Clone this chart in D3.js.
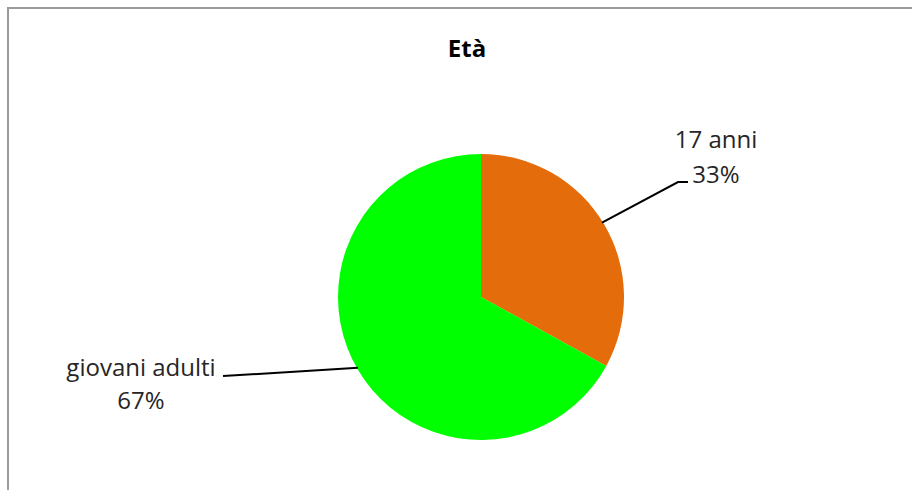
<!DOCTYPE html>
<html><head><meta charset="utf-8">
<script src="https://cdn.jsdelivr.net/npm/d3@7"></script>
<style>html,body{margin:0;padding:0;background:#fff;overflow:hidden}</style>
</head><body>
<svg id="c" width="912" height="490"></svg>
<script>
const title = "Età";
const categories = ["17 anni", "giovani adulti"];
const values = [33, 67];
const percentLabels = ["33%", "67%"];
const colors = ["#E46C0A", "#00FF00"];

const svg = d3.select("#c");
const font = "'Open Sans', 'Liberation Sans', sans-serif";

// frame
svg.append("rect").attr("x", 0).attr("y", 0).attr("width", 912).attr("height", 490).attr("fill", "#fff");
svg.append("line").attr("x1", 8).attr("y1", 8).attr("x2", 912).attr("y2", 8).attr("stroke", "#9a9a9a").attr("stroke-width", 2);
svg.append("line").attr("x1", 8).attr("y1", 7).attr("x2", 8).attr("y2", 490).attr("stroke", "#9a9a9a").attr("stroke-width", 2);

svg.append("text").attr("x", 467).attr("y", 57).attr("text-anchor", "middle")
  .attr("font-family", font).attr("font-weight", "bold").attr("font-size", 24).attr("fill", "#000").text(title);

const cx = 481, cy = 297, r = 143;
const pie = d3.pie().sort(null).value(d => d)(values);
const arc = d3.arc().innerRadius(0).outerRadius(r);
const g = svg.append("g").attr("transform", `translate(${cx},${cy})`);
g.selectAll("path").data(pie).join("path").attr("d", arc).attr("fill", (d, i) => colors[i]);

// leader lines
const lab = [
  {pts: [[688, 182], [678, 182]], a: 1.02, tx: 716, ty1: 148, ty2: 183},
  {pts: [[223, 376]], a: 4.19, tx: 141, ty1: 376, ty2: 409}
];
pie.forEach((d, i) => {
  const a = lab[i].a;
  const p = [cx + Math.sin(a) * (r - 1), cy - Math.cos(a) * (r - 1)];
  const pts = lab[i].pts.concat([p]);
  svg.append("path").attr("d", d3.line()(pts)).attr("fill", "none").attr("stroke", "#000").attr("stroke-width", 2);
  const t = svg.append("text").attr("text-anchor", "middle").attr("font-family", font).attr("font-size", 24).attr("fill", "#262626");
  t.append("tspan").attr("x", lab[i].tx).attr("y", lab[i].ty1).text(categories[i]);
  t.append("tspan").attr("x", lab[i].tx).attr("y", lab[i].ty2).text(percentLabels[i]);
});
</script>
</body></html>
